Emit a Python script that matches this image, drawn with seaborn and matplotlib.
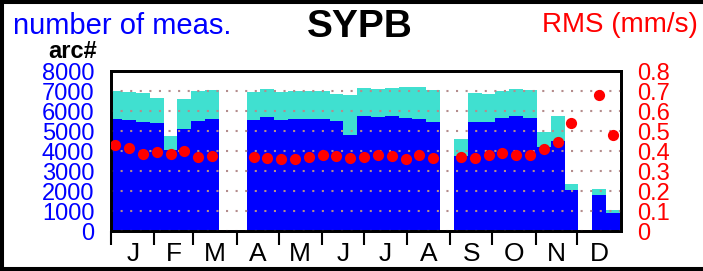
import numpy as np
import pandas as pd
import matplotlib
matplotlib.use("Agg")
import matplotlib.pyplot as plt
import seaborn as sns
from matplotlib.lines import Line2D
from matplotlib.ticker import NullFormatter

station = "SYPB"
month_labels = ["J", "F", "M", "A", "M", "J", "J", "A", "S", "O", "N", "D"]
month_start = [0, 31, 59, 90, 120, 151, 181, 212, 243, 273, 304, 334, 365]

# 37 bins of ~9.9 days over the year, NaN = no data in that bin
bin_day = 3 + 9.9 * np.arange(37)
n_total = [7025, 6960, 6910, 6660, 4775, 6610, 7025, 7075, np.nan, np.nan,
           6960, 7110, 6960, 7010, 6990, 7025, 6875, 6790, 7140, 7125,
           7175, 7190, 7210, 7040, np.nan, 4610, 6910, 6860, 7025, 7110,
           7040, 4940, 5775, 2360, np.nan, 2110, 1075]
n_used = [5625, 5540, 5440, 5400, 4050, 5125, 5490, 5610, np.nan, np.nan,
          5575, 5710, 5575, 5625, 5625, 5625, 5525, 4825, 5740, 5710,
          5775, 5660, 5610, 5440, np.nan, 3775, 5440, 5440, 5660, 5740,
          5660, 4200, 4520, 2075, np.nan, 1825, 910]
rms = [0.428, 0.416, 0.386, 0.396, 0.384, 0.398, 0.369, 0.376, np.nan, np.nan,
       0.371, 0.363, 0.361, 0.361, 0.369, 0.378, 0.376, 0.366, 0.371, 0.379,
       0.374, 0.361, 0.381, 0.363, np.nan, 0.369, 0.366, 0.378, 0.388, 0.378,
       0.378, 0.411, 0.446, 0.541, np.nan, 0.678, 0.478]

df = pd.DataFrame({"day": bin_day, "total": n_total, "used": n_used, "rms": rms}).dropna()

sns.set_style("white")
plt.rcParams["font.family"] = ["Liberation Sans", "DejaVu Sans"]
plt.rcParams["text.color"] = "black"

fig, ax = plt.subplots(figsize=(7.03, 2.71))
fig.subplots_adjust(left=0.158, right=0.883, bottom=0.1476, top=0.738)

bar_kw = dict(orient="x", native_scale=True, width=1, saturation=1,
              linewidth=0, errorbar=None, ax=ax)
sns.barplot(data=df, x="day", y="total", color="#40e0d0", **bar_kw)
sns.barplot(data=df, x="day", y="used", color="#0000ff", **bar_kw)

ax.set_ylim(0, 8000)
ax.set_yticks(range(0, 8001, 1000))
ax.set_yticklabels([str(v) for v in range(0, 8001, 1000)])
ax.tick_params(axis="y", length=0, pad=12, labelcolor="blue", labelsize=17)
ax.yaxis.grid(True, color="#b48c8c", linestyle=(0, (1, 3.6)), linewidth=1.5)
ax.xaxis.grid(False)
ax.set_axisbelow(False)

mids = [(a + b) / 2 for a, b in zip(month_start[:-1], month_start[1:])]
ax.set_xticks(month_start[:-1])
ax.xaxis.set_major_formatter(NullFormatter())
ax.set_xticks(mids, labels=month_labels, minor=True)
ax.tick_params(axis="x", which="major", bottom=True, length=10, width=1.5,
               direction="out", color="black")
ax.tick_params(axis="x", which="minor", bottom=True, length=0, pad=8,
               labelsize=19, labelcolor="black")
ax.set_xlabel("")
ax.set_ylabel("")

ax2 = ax.twinx()
sns.scatterplot(data=df, x="day", y="rms", color="red", s=65, linewidth=0, ax=ax2, zorder=5)
ax2.set_ylim(0, 0.8)
rms_ticks = [round(v, 1) for v in np.arange(0, 0.81, 0.1)]
ax2.set_yticks(rms_ticks)
ax2.set_yticklabels([f"{v:g}" for v in rms_ticks])
ax2.tick_params(axis="y", length=0, pad=12, labelcolor="red", labelsize=17)
ax2.set_ylabel("")
ax2.set_xlabel("")
ax.set_xlim(0, 365)

for a in (ax, ax2):
    for sp in a.spines.values():
        sp.set_color("black")
        sp.set_linewidth(2)
        sp.set_visible(True)

fig.text(13 / 703, 1 - 34 / 271, "number of meas.", color="blue", fontsize=21,
         ha="left", va="baseline")
fig.text(360 / 703, 1 - 37 / 271, station, color="black", fontsize=28,
         fontweight="bold", ha="center", va="baseline")
fig.text(542 / 703, 1 - 32 / 271, "RMS (mm/s)", color="red", fontsize=20,
         ha="left", va="baseline")
fig.text(48 / 703, 1 - 58 / 271, "arc#", color="black", fontsize=17,
         fontweight="bold", ha="left", va="baseline")

# black frame (top, left, bottom)
for xs, ys in [([0, 1], [1, 1]), ([0, 0], [0, 1]), ([0, 1], [0, 0])]:
    fig.add_artist(Line2D(xs, ys, transform=fig.transFigure, color="black", lw=5.8))

fig.savefig("out.png", dpi=100)
